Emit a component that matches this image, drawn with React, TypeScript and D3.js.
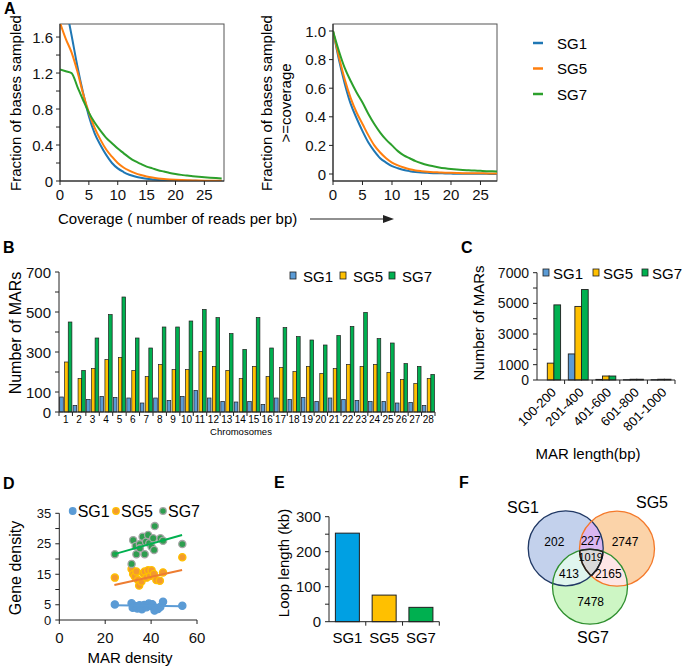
import React from 'react';
import * as d3 from 'd3';

const FONT = '"Liberation Sans", Arial, Helvetica, sans-serif';
const INK = '#222';

// ---------- Panel A data ----------
const coverage = [0,1,2,3,4,5,6,7,8,9,10,11,12,13,14,15,16,17,18,19,20,21,22,23,24,25,26,27,28];
const fracSG1 = [2.25,1.95,1.62,1.28,0.98,0.72,0.53,0.4,0.29,0.2,0.14,0.1,0.07,0.05,0.035,0.025,0.018,0.012,0.008,0.006,0.004,0.003,0.002,0.002,0.001,0.001,0.001,0,0];
const fracSG5 = [1.76,1.58,1.43,1.22,0.97,0.76,0.59,0.46,0.35,0.27,0.2,0.15,0.115,0.088,0.067,0.05,0.038,0.029,0.022,0.017,0.013,0.01,0.008,0.006,0.005,0.004,0.003,0.002,0.002];
const fracSG7 = [1.24,1.22,1.2,1.05,0.9,0.76,0.65,0.56,0.48,0.42,0.36,0.31,0.26,0.22,0.19,0.16,0.14,0.12,0.105,0.09,0.078,0.068,0.06,0.052,0.046,0.042,0.037,0.033,0.029];
const cumSG1 = [1,0.8,0.63,0.49,0.39,0.3,0.22,0.16,0.11,0.08,0.055,0.04,0.028,0.02,0.014,0.01,0.008,0.006,0.005,0.004,0.003,0.002,0.002,0.001,0.001,0.001,0.001,0,0];
const cumSG5 = [1,0.82,0.66,0.53,0.43,0.35,0.27,0.2,0.15,0.11,0.08,0.06,0.045,0.033,0.025,0.02,0.016,0.013,0.011,0.009,0.008,0.007,0.006,0.006,0.005,0.005,0.004,0.004,0.004];
const cumSG7 = [1,0.86,0.74,0.65,0.57,0.5,0.42,0.35,0.29,0.24,0.2,0.16,0.13,0.11,0.09,0.075,0.063,0.054,0.046,0.04,0.035,0.031,0.028,0.026,0.024,0.022,0.02,0.019,0.018];
const seriesNames = ['SG1','SG5','SG7'];
const lineColors = ['#1f77b4','#ff7f0e','#2ca02c'];

// ---------- Panel B data ----------
const chromosomes = ['1','2','3','4','5','6','7','8','9','10','11','12','13','14','15','16','17','18','19','20','21','22','23','24','25','26','27','28'];
const marSG1 = [75,33,63,78,73,70,45,70,58,78,108,70,53,50,53,38,70,63,73,53,70,63,58,53,53,45,48,33];
const marSG5 = [250,167,217,262,273,207,177,237,212,212,303,228,208,167,228,177,222,202,228,192,217,238,228,238,197,162,142,167];
const marSG7 = [450,208,370,487,575,370,320,425,425,455,513,472,392,313,472,320,422,377,360,335,382,428,498,367,345,242,228,188];
const barColors = ['#5b9bd5','#ffc000','#00b050'];

// ---------- Panel C data ----------
const marLengths = ['100-200','201-400','401-600','601-800','801-1000'];
const lenSG1 = [0,1700,40,20,20];
const lenSG5 = [1100,4800,260,50,50];
const lenSG7 = [4900,5900,260,50,50];

// ---------- Panel D data ----------
const dSG1x = [24.2,31.5,32.0,33.0,34.0,34.5,35.0,36.0,37.0,38.0,38.5,39.0,40.0,40.5,41.5,42.0,43.0,44.0,45.2,53.6];
const dSG1y = [5.1,5.5,4.0,4.6,3.8,4.6,4.8,3.5,4.9,4.2,4.8,5.4,4.6,5.2,3.1,4.0,3.6,4.3,6.0,4.7];
const dSG5x = [24.2,31.5,32.2,32.9,33.6,34.3,34.8,35.8,36.5,37.2,38.0,38.7,39.5,40.2,41.2,42.3,43.8,45.2,53.6];
const dSG5y = [13.9,16.7,15.1,14.3,15.9,13.1,11.3,12.6,15.3,15.9,13.9,16.3,14.4,16.3,15.1,13.1,12.9,15.6,20.6];
const dSG7x = [24.2,31.5,32.2,33.3,33.6,35.1,35.1,36.3,37.2,37.8,38.7,39.2,40.2,40.9,41.3,41.6,44.1,45.2,53.6];
const dSG7y = [21.6,18.4,26.2,24.3,21.6,24.9,23.5,27.3,21.6,25.7,27.9,25.2,24.0,26.8,23.0,30.8,26.8,26.0,24.9];
const trendX = [24,53.5];
const trendSG1 = [4.8,4.5];
const trendSG5 = [11.5,16.4];
const trendSG7 = [21.6,27.9];

// ---------- Panel E data ----------
const loopGroups = ['SG1','SG5','SG7'];
const loopLength = [253,76,41];
const loopColors = ['#00a0e3','#ffc000','#00b050'];

// ---------- Panel F data ----------
const vennCounts = ['202','227','2747','1019','413','2165','7478'];

// ---------------- helpers ----------------
function LeftAxis({ scale, x, y0, y1, major, minor = [], fmt, fs, tick = 4, gap = 3 }: any) {
  return (
    <g>
      <line x1={x} x2={x} y1={y0} y2={y1} stroke={INK} />
      {major.map((v: number) => (
        <g key={'M' + v}>
          <line x1={x - tick} x2={x} y1={scale(v)} y2={scale(v)} stroke={INK} />
          <text x={x - tick - gap} y={scale(v)} textAnchor="end" dominantBaseline="central" fontSize={fs} fill="#111">{fmt(v)}</text>
        </g>
      ))}
      {minor.map((v: number) => (
        <line key={'m' + v} x1={x - tick} x2={x} y1={scale(v)} y2={scale(v)} stroke={INK} />
      ))}
    </g>
  );
}

function BottomTicks({ scale, y, values, fs, tick = 4, labelY }: any) {
  return (
    <g>
      {values.map((v: number) => (
        <g key={v}>
          <line x1={scale(v)} x2={scale(v)} y1={y} y2={y + tick} stroke={INK} />
          <text x={scale(v)} y={labelY} textAnchor="middle" dominantBaseline="central" fontSize={fs} fill="#111">{v}</text>
        </g>
      ))}
    </g>
  );
}

function PanelA() {
  const xL = d3.scaleLinear().domain([0, 28.4]).range([60, 224]);
  const yL = d3.scaleLinear().domain([0, 1.745]).range([181, 24]);
  const xR = d3.scaleLinear().domain([0, 27.8]).range([333, 497]);
  const yR = d3.scaleLinear().domain([0, 1]).range([174, 31]);
  const fracs = [fracSG1, fracSG5, fracSG7];
  const cums = [cumSG1, cumSG5, cumSG7];
  const lineL = d3.line<number>().x((_, i) => xL(coverage[i])).y(d => yL(d)).curve(d3.curveMonotoneX);
  const lineR = d3.line<number>().x((_, i) => xR(coverage[i])).y(d => yR(d)).curve(d3.curveMonotoneX);
  const fmt1 = (v: number) => (v === 0 ? '0' : v.toFixed(1));
  return (
    <g>
      <text x={4} y={14} fontSize={16} fontWeight="bold">A</text>
      <defs>
        <clipPath id="clipAL"><rect x={60} y={24} width={164} height={157} /></clipPath>
        <clipPath id="clipAR"><rect x={333} y={24} width={164} height={157} /></clipPath>
      </defs>
      <rect x={60} y={24} width={164} height={157} fill="none" stroke="#555" />
      <g clipPath="url(#clipAL)">
        {fracs.map((s, i) => (
          <path key={i} d={lineL(s) || ''} fill="none" stroke={lineColors[i]} strokeWidth={2} />
        ))}
      </g>
      <LeftAxis scale={yL} x={60} y0={24} y1={181} major={[0, 0.4, 0.8, 1.2, 1.6]} minor={[0.2, 0.6, 1.0, 1.4]} fmt={fmt1} fs={15} />
      <line x1={60} x2={224} y1={181} y2={181} stroke={INK} />
      <BottomTicks scale={xL} y={181} values={[0, 5, 10, 15, 20, 25]} fs={15} labelY={194} />
      <text transform="translate(15,103) rotate(-90)" textAnchor="middle" dominantBaseline="central" fontSize={15}>Fraction of bases sampled</text>

      <rect x={333} y={24} width={164} height={157} fill="none" stroke="#555" />
      <g clipPath="url(#clipAR)">
        {cums.map((s, i) => (
          <path key={i} d={lineR(s) || ''} fill="none" stroke={lineColors[i]} strokeWidth={2} />
        ))}
      </g>
      <LeftAxis scale={yR} x={333} y0={24} y1={181} major={[0, 0.2, 0.4, 0.6, 0.8, 1.0]} fmt={fmt1} fs={15} />
      <line x1={333} x2={497} y1={181} y2={181} stroke={INK} />
      <BottomTicks scale={xR} y={181} values={[0, 5, 10, 15, 20, 25]} fs={15} labelY={194} />
      <text transform="translate(266,103) rotate(-90)" textAnchor="middle" dominantBaseline="central" fontSize={15}>Fraction of bases sampled</text>
      <text transform="translate(285,103) rotate(-90)" textAnchor="middle" dominantBaseline="central" fontSize={15}>{'>=coverage'}</text>

      {seriesNames.map((n, i) => (
        <g key={n}>
          <line x1={533} x2={543} y1={43 + i * 25.5} y2={43 + i * 25.5} stroke={lineColors[i]} strokeWidth={2.5} />
          <text x={557} y={43 + i * 25.5} dominantBaseline="central" fontSize={15}>{n}</text>
        </g>
      ))}

      <text x={58} y={218} dominantBaseline="central" fontSize={15}>Coverage ( number of reads per bp)</text>
      <line x1={310} x2={385} y1={219} y2={219} stroke={INK} strokeWidth={1.2} />
      <polygon points="394,219 383,215 383,223" fill={INK} />
    </g>
  );
}

function PanelB() {
  const x = d3.scaleBand<string>().domain(chromosomes).range([59, 435]).padding(0);
  const y = d3.scaleLinear().domain([0, 700]).range([412, 272]);
  const cw = x.bandwidth();
  const series = [marSG1, marSG5, marSG7];
  const offs = [0.05, 0.42, 0.69];
  return (
    <g>
      <text x={3} y={253} fontSize={16} fontWeight="bold">B</text>
      {chromosomes.map((c, ci) => (
        <g key={c}>
          {series.map((s, si) => (
            <rect key={si} x={(x(c) as number) + offs[si] * cw} y={y(s[ci])} width={cw * 0.27} height={412 - y(s[ci])}
              fill={barColors[si]} stroke="#1e1e1e" strokeWidth={0.7} />
          ))}
          <line x1={(x(c) as number) + cw} x2={(x(c) as number) + cw} y1={412} y2={416} stroke={INK} />
          <text x={(x(c) as number) + cw / 2} y={419.5} textAnchor="middle" dominantBaseline="central" fontSize={10}>{c}</text>
        </g>
      ))}
      <line x1={59} x2={435} y1={412} y2={412} stroke={INK} />
      <line x1={59} x2={59} y1={412} y2={416} stroke={INK} />
      <LeftAxis scale={y} x={59} y0={272} y1={412} major={[0, 100, 300, 500, 700]} minor={[200, 400, 600]} fmt={(v: number) => String(v)} fs={15} gap={4} />
      <text x={241} y={431} textAnchor="middle" dominantBaseline="central" fontSize={9.5}>Chromosomes</text>
      <text transform="translate(15,333) rotate(-90)" textAnchor="middle" dominantBaseline="central" fontSize={16}>Number of MARs</text>
      {seriesNames.map((n, i) => {
        const lx = [290, 340, 389][i];
        return (
          <g key={n}>
            <rect x={lx} y={272} width={6} height={7} fill={barColors[i]} stroke="#1e1e1e" strokeWidth={0.8} />
            <text x={lx + 13} y={276} dominantBaseline="central" fontSize={15}>{n}</text>
          </g>
        );
      })}
    </g>
  );
}

function PanelC() {
  const x = d3.scaleBand<string>().domain(marLengths).range([537, 675]).padding(0);
  const y = d3.scaleLinear().domain([0, 7000]).range([380, 272.7]);
  const cw = x.bandwidth();
  const series = [lenSG1, lenSG5, lenSG7];
  const offs = [0.134, 0.373, 0.612];
  return (
    <g>
      <text x={461} y={253} fontSize={16} fontWeight="bold">C</text>
      {marLengths.map((c, ci) => (
        <g key={c}>
          {series.map((s, si) => (
            <rect key={si} x={(x(c) as number) + offs[si] * cw} y={y(s[ci])} width={cw * 0.243} height={380 - y(s[ci])}
              fill={barColors[si]} stroke="#1e1e1e" strokeWidth={0.9} />
          ))}
          <line x1={(x(c) as number) + cw} x2={(x(c) as number) + cw} y1={380} y2={384} stroke={INK} />
          <text transform={`translate(${(x(c) as number) + cw / 2 + 3},${390}) rotate(-45)`} textAnchor="end" dominantBaseline="central" fontSize={13}>{c}</text>
        </g>
      ))}
      <line x1={537} x2={675} y1={380} y2={380} stroke={INK} />
      <LeftAxis scale={y} x={537} y0={272.7} y1={380} major={[0, 1000, 3000, 5000, 7000]} minor={[2000, 4000, 6000]} fmt={(v: number) => String(v)} fs={14} gap={4} />
      <text transform="translate(478,323) rotate(-90)" textAnchor="middle" dominantBaseline="central" fontSize={15}>Number of MARs</text>
      <text x={588} y={453} textAnchor="middle" dominantBaseline="central" fontSize={15}>MAR length(bp)</text>
      {seriesNames.map((n, i) => {
        const lx = [543, 593, 642][i];
        return (
          <g key={n}>
            <rect x={lx} y={269} width={6} height={7} fill={barColors[i]} stroke="#1e1e1e" strokeWidth={0.8} />
            <text x={lx + 10} y={273} dominantBaseline="central" fontSize={15}>{n}</text>
          </g>
        );
      })}
    </g>
  );
}

function PanelD() {
  const x = d3.scaleLinear().domain([0, 60]).range([59.3, 197]);
  const y = d3.scaleLinear().domain([0, 35]).range([620, 513.3]);
  const pts = [[dSG1x, dSG1y], [dSG5x, dSG5y], [dSG7x, dSG7y]];
  const trends = [trendSG1, trendSG5, trendSG7];
  const fills = ['#5b9bd5', '#f39a2e', '#2e9e4f'];
  const strokes = ['#5b9bd5', '#ffc000', '#a6a6a6'];
  const lineCols = ['#5b9bd5', '#ed7d31', '#00b050'];
  return (
    <g>
      <text x={3} y={489} fontSize={16} fontWeight="bold">D</text>
      {pts.map(([xs, ys], si) => (
        <g key={si}>
          {xs.map((xv, i) => (
            <circle key={i} cx={x(xv)} cy={y(ys[i])} r={3.6} fill={fills[si]} stroke={strokes[si]} strokeWidth={1.3} />
          ))}
        </g>
      ))}
      {trends.map((t, si) => (
        <line key={si} x1={x(trendX[0])} x2={x(trendX[1])} y1={y(t[0])} y2={y(t[1])} stroke={lineCols[si]} strokeWidth={2} />
      ))}
      <line x1={59.3} x2={197} y1={620} y2={620} stroke={INK} />
      <BottomTicks scale={x} y={620} values={[0, 20, 40, 60]} fs={15} labelY={637} />
      <LeftAxis scale={y} x={59.3} y0={513.3} y1={620} major={[0, 5, 15, 25, 35]} minor={[10, 20, 30]} fmt={(v: number) => String(v)} fs={13} gap={4} />
      <text x={130} y={657} textAnchor="middle" dominantBaseline="central" fontSize={15}>MAR density</text>
      <text transform="translate(15,568) rotate(-90)" textAnchor="middle" dominantBaseline="central" fontSize={16}>Gene density</text>
      {seriesNames.map((n, i) => {
        const lx = [72.7, 116, 163][i];
        return (
          <g key={n}>
            <circle cx={lx} cy={511} r={3.3} fill={fills[i]} stroke={strokes[i]} strokeWidth={1.2} />
            <text x={lx + 5} y={511} dominantBaseline="central" fontSize={16}>{n}</text>
          </g>
        );
      })}
    </g>
  );
}

function PanelE() {
  const x = d3.scaleBand<string>().domain(loopGroups).range([329, 439.3]).padding(0);
  const y = d3.scaleLinear().domain([0, 300]).range([621.7, 516.7]);
  const cw = x.bandwidth();
  const bw = 24;
  return (
    <g>
      <text x={274} y={488} fontSize={16} fontWeight="bold">E</text>
      {loopGroups.map((g, i) => (
        <g key={g}>
          <rect x={(x(g) as number) + (cw - bw) / 2} y={y(loopLength[i])} width={bw} height={621.7 - y(loopLength[i])}
            fill={loopColors[i]} stroke="#1e1e1e" strokeWidth={1} />
          <line x1={(x(g) as number) + cw} x2={(x(g) as number) + cw} y1={621.7} y2={625.7} stroke={INK} />
          <text x={(x(g) as number) + cw / 2} y={637} textAnchor="middle" dominantBaseline="central" fontSize={15}>{g}</text>
        </g>
      ))}
      <line x1={329} x2={439.3} y1={621.7} y2={621.7} stroke={INK} />
      <LeftAxis scale={y} x={329} y0={516.7} y1={621.7} major={[0, 100, 200, 300]} minor={[50, 150, 250]} fmt={(v: number) => String(v)} fs={15} gap={4} />
      <text transform="translate(283,563) rotate(-90)" textAnchor="middle" dominantBaseline="central" fontSize={15}>Loop length (kb)</text>
    </g>
  );
}

function PanelF() {
  const r = 37.5;
  const A = { x: 565.7, y: 548.3 };
  const B = { x: 617, y: 548.7 };
  const C = { x: 590, y: 586.7 };
  const labelPos = [[554.3, 542.3], [590.7, 540.7], [625, 542.3], [590.7, 556.7], [569, 574], [608.3, 574], [590.7, 602.3]];
  return (
    <g>
      <text x={459} y={488} fontSize={16} fontWeight="bold">F</text>
      <defs>
        <clipPath id="vA"><circle cx={A.x} cy={A.y} r={r} /></clipPath>
        <clipPath id="vB"><circle cx={B.x} cy={B.y} r={r} /></clipPath>
        <clipPath id="vC"><circle cx={C.x} cy={C.y} r={r} /></clipPath>
      </defs>
      <circle cx={A.x} cy={A.y} r={r} fill="#c3d1ec" />
      <circle cx={B.x} cy={B.y} r={r} fill="#fbd3a9" />
      <circle cx={C.x} cy={C.y} r={r} fill="#cdf6c4" />
      <circle cx={B.x} cy={B.y} r={r} fill="#d9b6f0" clipPath="url(#vA)" />
      <circle cx={C.x} cy={C.y} r={r} fill="#e0f5ee" clipPath="url(#vA)" />
      <circle cx={C.x} cy={C.y} r={r} fill="#fde6e6" clipPath="url(#vB)" />
      <g clipPath="url(#vA)">
        <circle cx={C.x} cy={C.y} r={r} fill="#d9d9d9" clipPath="url(#vB)" />
      </g>
      <circle cx={A.x} cy={A.y} r={r} fill="none" stroke="#203864" strokeWidth={1.3} />
      <circle cx={B.x} cy={B.y} r={r} fill="none" stroke="#f4792a" strokeWidth={1.3} />
      <circle cx={C.x} cy={C.y} r={r} fill="none" stroke="#2f8f2f" strokeWidth={1.3} />
      <g clipPath="url(#vA)">
        <circle cx={C.x} cy={C.y} r={r} fill="none" stroke="#222" strokeWidth={1.6} clipPath="url(#vB)" />
      </g>
      <g clipPath="url(#vB)">
        <circle cx={A.x} cy={A.y} r={r} fill="none" stroke="#222" strokeWidth={1.6} clipPath="url(#vC)" />
      </g>
      <g clipPath="url(#vA)">
        <circle cx={B.x} cy={B.y} r={r} fill="none" stroke="#222" strokeWidth={1.6} clipPath="url(#vC)" />
      </g>
      {vennCounts.map((t, i) => (
        <text key={i} x={labelPos[i][0]} y={labelPos[i][1]} textAnchor="middle" dominantBaseline="central" fontSize={i === 3 ? 11 : 12}>{t}</text>
      ))}
      <text x={523} y={507} textAnchor="middle" dominantBaseline="central" fontSize={16}>SG1</text>
      <text x={652} y={502} textAnchor="middle" dominantBaseline="central" fontSize={16}>SG5</text>
      <text x={593} y={637} textAnchor="middle" dominantBaseline="central" fontSize={16}>SG7</text>
    </g>
  );
}

export default function App() {
  return (
    <svg width={685} height={666} style={{ position: 'absolute', left: 0, top: 0 }} fontFamily={FONT}>
      <rect x={0} y={0} width={685} height={666} fill="#fff" />
      <PanelA />
      <PanelB />
      <PanelC />
      <PanelD />
      <PanelE />
      <PanelF />
    </svg>
  );
}
